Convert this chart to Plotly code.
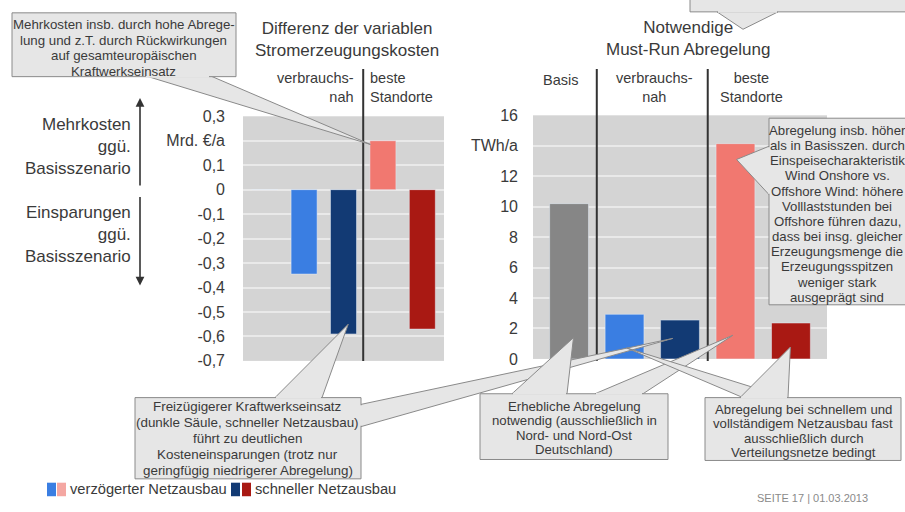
import plotly.graph_objects as go

# ---- data -------------------------------------------------------------
scenarios = ["Basis", "verbrauchsnah verzögert", "verbrauchsnah schnell",
             "beste Standorte verzögert", "beste Standorte schnell"]
cost_delta = [0.0, -0.345, -0.59, 0.2, -0.57]        # Mrd. €/a vs. Basis
curtailment = [10.2, 2.93, 2.55, 14.14, 2.36]         # TWh/a

cost_ticks = [0.3, 0.2, 0.1, 0.0, -0.1, -0.2, -0.3, -0.4, -0.5, -0.6, -0.7]
cost_ticktext = ["0,3", "Mrd. €/a", "0,1", "0", "-0,1", "-0,2", "-0,3",
                 "-0,4", "-0,5", "-0,6", "-0,7"]
curt_ticks = [16, 14, 12, 10, 8, 6, 4, 2, 0]
curt_ticktext = ["16", "TWh/a", "12", "10", "8", "6", "4", "2", "0"]

# ---- styling ----------------------------------------------------------
W, H = 905, 512
FONT = "Liberation Sans, Arial, sans-serif"
TXT = "#3a3a3a"
C_LBLUE, C_DBLUE, C_PINK, C_RED, C_GRAY = "#3a7ee2", "#123a74", "#f17870", "#a91913", "#868686"
C_PINK_LEG = "#f4a7a2"
BOX_FILL, BOX_LINE = "#e6e6e6", "#8a8a8a"

cost_colors = ["rgba(0,0,0,0)", C_LBLUE, C_DBLUE, C_PINK, C_RED]
curt_colors = [C_GRAY, C_LBLUE, C_DBLUE, C_PINK, C_RED]

# plot areas in pixels and axis ranges
L_X, L_Y, L_XR, L_YR = (243, 444), (112, 365), (-0.55, 4.55), (-0.7, 0.3)
R_X, R_Y, R_XR, R_YR = (533, 827), (111, 363), (-0.65, 4.65), (0, 16)


def px(x):
    return x / W


def py(y):
    return 1 - y / H


def lx(v):
    return L_X[0] + (v - L_XR[0]) * (L_X[1] - L_X[0]) / (L_XR[1] - L_XR[0])


def ly(v):
    return L_Y[0] + (L_YR[1] - v) * (L_Y[1] - L_Y[0]) / (L_YR[1] - L_YR[0])


def rx(v):
    return R_X[0] + (v - R_XR[0]) * (R_X[1] - R_X[0]) / (R_XR[1] - R_XR[0])


def ry(v):
    return R_Y[0] + (R_YR[1] - v) * (R_Y[1] - R_Y[0]) / (R_YR[1] - R_YR[0])


fig = go.Figure()
fig.add_trace(go.Bar(x=scenarios, y=cost_delta, marker_color=cost_colors,
                     width=0.66, xaxis="x", yaxis="y", showlegend=False))
fig.add_trace(go.Bar(x=scenarios, y=curtailment, marker_color=curt_colors,
                     width=0.70, xaxis="x2", yaxis="y2", showlegend=False))

axis_common = dict(showgrid=False, zeroline=False, showticklabels=False,
                   ticks="", showline=False, type="category",
                   categoryorder="array", categoryarray=scenarios)
yaxis_common = dict(showgrid=True, gridcolor="#e9e9e9", gridwidth=2,
                    zeroline=False, ticks="", showline=False,
                    tickfont=dict(family=FONT, size=16, color=TXT))

fig.update_layout(
    width=W, height=H, margin=dict(l=0, r=0, t=0, b=0),
    paper_bgcolor="white", plot_bgcolor="#d4d4d4",
    font=dict(family=FONT, color=TXT),
    xaxis=dict(domain=[px(L_X[0]), px(L_X[1])], range=list(L_XR), **axis_common),
    yaxis=dict(domain=[py(L_Y[1]), py(L_Y[0])], range=list(L_YR),
               tickvals=cost_ticks, ticktext=cost_ticktext,
               ticklabelstandoff=17, anchor="x", **yaxis_common),
    xaxis2=dict(domain=[px(R_X[0]), px(R_X[1])], range=list(R_XR), anchor="y2",
                **axis_common),
    yaxis2=dict(domain=[py(R_Y[1]), py(R_Y[0])], range=list(R_YR),
                tickvals=curt_ticks, ticktext=curt_ticktext,
                ticklabelstandoff=14, anchor="x2", **yaxis_common),
)

shapes = []
annotations = []


def text(x, y, s, size, xanchor="center", yanchor="middle", align="center", color=TXT):
    annotations.append(dict(x=px(x), y=py(y), xref="paper", yref="paper", text=s,
                            showarrow=False, xanchor=xanchor, yanchor=yanchor,
                            align=align, font=dict(family=FONT, size=size, color=color)))


def lines(x, y0, step, rows, size):
    # multi-line callout text with explicit line spacing
    for i, row in enumerate(rows):
        text(x, y0 + i * step, row, size)


# scenario separators
for xr, xv in (("x", 2.5), ("x2", 0.5), ("x2", 2.5)):
    shapes.append(dict(type="line", xref=xr, yref="paper", x0=xv, x1=xv,
                       y0=py(365), y1=py(63), line=dict(color="#333333", width=2),
                       layer="above"))

# titles
text(347, 33, "Differenz der variablen<br>Stromerzeugungskosten", 17)
text(688, 32, "Notwendige<br>Must-Run Abregelung", 17)

# scenario headers
text(356, 82, "verbrauchs-<br>nah", 14.5, xanchor="right", align="right")
text(368, 82, "beste<br>Standorte", 14.5, xanchor="left", align="left")
text(560, 74, "Basis", 14.5)
text(654, 82, "verbrauchs-<br>nah", 14.5)
text(751, 82, "beste<br>Standorte", 14.5)

# left side direction labels and arrows
text(133, 143, "Mehrkosten<br>ggü.<br>Basisszenario", 17, xanchor="right", align="right")
text(133, 234, "Einsparungen<br>ggü.<br>Basisszenario", 17, xanchor="right", align="right")
for tip, off in ((93, 89), (287, -90)):
    annotations.append(dict(x=px(140), y=py(tip), xref="paper", yref="paper",
                            ax=0, ay=off, text="", showarrow=True, arrowhead=2,
                            arrowsize=1.1, arrowwidth=1.6, arrowcolor="#333333",
                            standoff=0, startstandoff=0))


def pointer(b1, tip, b2):
    path = "M {} {} L {} {} L {} {} Z".format(px(b1[0]), py(b1[1]), px(tip[0]), py(tip[1]),
                                              px(b2[0]), py(b2[1]))
    shapes.append(dict(type="path", path=path, xref="paper", yref="paper",
                       fillcolor=BOX_FILL, line=dict(color=BOX_LINE, width=1), layer="above"))


def box(x0, y0, x1, y1):
    shapes.append(dict(type="rect", xref="paper", yref="paper", x0=px(x0), x1=px(x1),
                       y0=py(y1), y1=py(y0), fillcolor=BOX_FILL,
                       line=dict(color=BOX_LINE, width=1), layer="above"))


def gap(a, b):
    # open the box border where a pointer joins it
    shapes.append(dict(type="line", xref="paper", yref="paper", x0=px(a[0]), y0=py(a[1]),
                       x1=px(b[0]), y1=py(b[1]), line=dict(color=BOX_FILL, width=2),
                       layer="above"))


# callout pointers
pointer((145, 70), (lx(2.68), ly(0.185)), (210, 70))
pointer((717, 4), (743, 22), (778, 4))
pointer((769, 143), (rx(3.02), ry(13.1)), (769, 193))
pointer((275, 403), (lx(2.12), ly(-0.55)), (322, 403))
pointer((361, 410), (rx(1.87), ry(1.35)), (361, 433))
pointer((512, 399), (rx(0.08), ry(1.4)), (567, 399))
pointer((595, 399), (rx(2.95), ry(1.55)), (643, 399))
pointer((743, 403), (rx(1.04), ry(0.72)), (786, 403))
pointer((740, 403), (rx(3.99), ry(0.78)), (788, 403))

# callout boxes
box(12, 5, 236, 71)
box(690, -40, 930, 4)
box(769, 114, 930, 307)
box(135, 403, 361, 487)
box(480, 399, 668, 467)
box(705, 403, 901, 468)

gap((146, 71), (209, 71))
gap((718, 4), (777, 4))
gap((769, 144), (769, 192))
gap((276, 403), (321, 403))
gap((361, 411), (361, 432))
gap((513, 399), (566, 399))
gap((596, 399), (642, 399))
gap((741, 403), (787, 403))

lines(124, 17, 16.1, ["Mehrkosten insb. durch hohe Abrege-", "lung und z.T. durch Rückwirkungen",
                      "auf gesamteuropäischen", "Kraftwerkseinsatz"], 13.3)
lines(837, 126.5, 15.7, ["Abregelung insb. höher", "als in Basisszen. durch",
                         "Einspeisecharakteristik", "Wind Onshore vs.",
                         "Offshore Wind: höhere", "Volllaststunden bei",
                         "Offshore führen dazu,", "dass bei insg. gleicher",
                         "Erzeugungsmenge die", "Erzeugungsspitzen",
                         "weniger stark", "ausgeprägt sind"], 13.2)
lines(248, 412, 16.7, ["Freizügigerer Kraftwerkseinsatz", "(dunkle Säule, schneller Netzausbau)",
                       "führt zu deutlichen", "Kosteneinsparungen (trotz nur",
                       "geringfügig niedrigerer Abregelung)"], 13.4)
lines(574, 412, 15, ["Erhebliche Abregelung", "notwendig (ausschließlich in",
                     "Nord- und Nord-Ost", "Deutschland)"], 13.2)
lines(803, 415, 15, ["Abregelung bei schnellem und", "vollständigem Netzausbau fast",
                     "ausschließlich durch", "Verteilungsnetze bedingt"], 13.2)

# legend
for x0, c in ((47, C_LBLUE), (57, C_PINK_LEG), (231, C_DBLUE), (242, C_RED)):
    shapes.append(dict(type="rect", xref="paper", yref="paper", x0=px(x0), x1=px(x0 + 9),
                       y0=py(505), y1=py(491), fillcolor=c, line=dict(width=0)))
text(68, 498, "verzögerter Netzausbau", 14.7, xanchor="left")
text(253, 498, "schneller Netzausbau", 14.7, xanchor="left")

text(812, 507, "SEITE 17 | 01.03.2013", 11, color="#8a8a8a")

fig.update_layout(shapes=shapes, annotations=annotations, bargap=0.3)
fig.write_html("out.html")
